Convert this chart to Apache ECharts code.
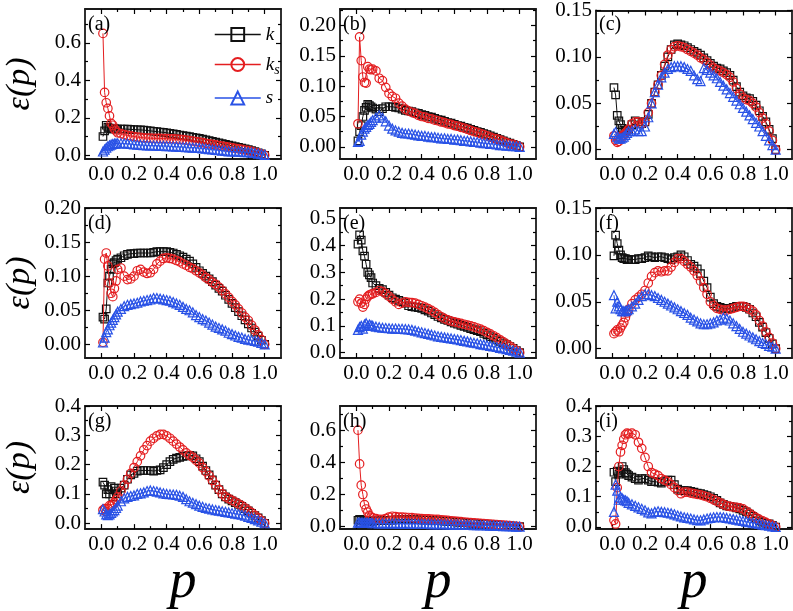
<!DOCTYPE html>
<html>
<head>
<meta charset="utf-8">
<script src="https://cdn.jsdelivr.net/npm/echarts@6/dist/echarts.min.js"></script>
<style>html,body{margin:0;padding:0;background:#fff}#c{width:793px;height:611px}</style>
</head>
<body>
<div id="c"></div>
<script>
// ---------- DATA ----------
const P = [0.01,0.02,0.03,0.04,0.05,0.06,0.07,0.08,0.09,0.10,
  0.12,0.14,0.16,0.18,0.20,0.22,0.24,0.26,0.28,0.30,0.32,0.34,0.36,0.38,0.40,
  0.42,0.44,0.46,0.48,0.50,0.52,0.54,0.56,0.58,0.60,0.62,0.64,0.66,0.68,0.70,
  0.72,0.74,0.76,0.78,0.80,0.82,0.84,0.86,0.88,0.90,0.92,0.94,0.96,0.98,1.00];

const panelLabels = ['(a)','(b)','(c)','(d)','(e)','(f)','(g)','(h)','(i)'];
const seriesNames = ['k','ks','s'];

const a_k  = [0.10,0.13,0.16,0.15,0.145,0.14,0.14,0.142,0.14,0.14, 0.14,0.14,0.139,0.138,0.137, 0.136,0.135,0.134,0.132,0.13, 0.128,0.126,0.124,0.122,0.12, 0.117,0.114,0.111,0.108,0.105, 0.102,0.099,0.096,0.093,0.09, 0.086,0.082,0.078,0.074,0.07, 0.066,0.062,0.058,0.054,0.05, 0.046,0.042,0.038,0.034,0.03, 0.025,0.019,0.013,0.007,0.0];
const a_ks = [0.65,0.335,0.28,0.25,0.21,0.17,0.16,0.14,0.13,0.12, 0.115,0.11,0.106,0.103,0.10, 0.097,0.095,0.093,0.092,0.091, 0.09,0.09,0.09,0.089,0.089, 0.088,0.087,0.086,0.085,0.083, 0.081,0.078,0.076,0.073,0.07, 0.067,0.064,0.061,0.058,0.055, 0.052,0.049,0.046,0.043,0.04, 0.037,0.034,0.031,0.028,0.025, 0.021,0.016,0.011,0.006,0.0];
const a_s  = [0.02,0.03,0.04,0.048,0.053,0.057,0.06,0.062,0.063,0.064, 0.064,0.063,0.062,0.06,0.058, 0.056,0.055,0.054,0.053,0.052, 0.052,0.051,0.05,0.05,0.049, 0.048,0.047,0.046,0.045,0.044, 0.043,0.042,0.041,0.04,0.039, 0.037,0.035,0.033,0.031,0.029, 0.027,0.025,0.023,0.021,0.02, 0.02,0.019,0.018,0.017,0.016, 0.014,0.012,0.009,0.006,0.002];

const b_k  = [0.01,0.025,0.035,0.05,0.06,0.065,0.07,0.068,0.066,0.064, 0.062,0.058,0.063,0.066,0.066, 0.066,0.065,0.064,0.062,0.06, 0.059,0.058,0.056,0.055,0.053, 0.052,0.05,0.049,0.047,0.045, 0.044,0.042,0.04,0.039,0.037, 0.035,0.034,0.032,0.031,0.029, 0.027,0.025,0.024,0.022,0.02, 0.018,0.016,0.014,0.012,0.01, 0.008,0.006,0.004,0.002,0.0];
const b_ks = [0.038,0.181,0.142,0.115,0.106,0.105,0.132,0.128,0.127,0.128, 0.125,0.113,0.109,0.098,0.088, 0.083,0.08,0.072,0.067,0.062, 0.059,0.057,0.055,0.052,0.05, 0.049,0.047,0.046,0.044,0.043, 0.041,0.04,0.038,0.037,0.035, 0.034,0.032,0.031,0.029,0.027, 0.025,0.024,0.022,0.02,0.018, 0.016,0.014,0.013,0.011,0.009, 0.007,0.005,0.004,0.002,0.0];
const b_s  = [0.008,0.01,0.02,0.025,0.03,0.033,0.036,0.038,0.041,0.044, 0.048,0.052,0.048,0.042,0.035, 0.03,0.027,0.025,0.023,0.022, 0.022,0.021,0.02,0.019,0.018, 0.018,0.017,0.016,0.016,0.015, 0.014,0.014,0.013,0.013,0.012, 0.012,0.011,0.01,0.01,0.009, 0.008,0.008,0.007,0.006,0.006, 0.005,0.005,0.004,0.003,0.003, 0.002,0.002,0.001,0.001,0.0];

const c_k  = [0.067,0.059,0.037,0.031,0.027,0.023,0.021,0.02,0.021,0.022, 0.027,0.031,0.03,0.028,0.03, 0.038,0.05,0.062,0.07,0.08, 0.09,0.1,0.108,0.113,0.114, 0.113,0.112,0.11,0.108,0.106, 0.104,0.102,0.099,0.096,0.093, 0.09,0.088,0.087,0.085,0.083, 0.08,0.075,0.068,0.062,0.058, 0.056,0.055,0.052,0.048,0.042, 0.036,0.03,0.022,0.012,0.0];
const c_ks = [0.015,0.01,0.008,0.009,0.012,0.015,0.016,0.018,0.02,0.022, 0.028,0.03,0.03,0.028,0.03, 0.04,0.05,0.062,0.07,0.08, 0.092,0.102,0.108,0.111,0.112, 0.111,0.11,0.108,0.106,0.104, 0.102,0.099,0.097,0.094,0.091, 0.088,0.086,0.085,0.083,0.081, 0.078,0.073,0.066,0.06,0.056, 0.054,0.053,0.05,0.046,0.04, 0.034,0.028,0.02,0.01,0.0];
const c_s  = [0.017,0.019,0.014,0.012,0.012,0.013,0.014,0.016,0.018,0.02, 0.02,0.022,0.02,0.02,0.025, 0.035,0.05,0.062,0.07,0.078, 0.083,0.087,0.089,0.09,0.09, 0.09,0.089,0.087,0.085,0.08, 0.076,0.074,0.088,0.086,0.083, 0.08,0.077,0.073,0.069,0.065, 0.061,0.057,0.053,0.049,0.045, 0.041,0.037,0.033,0.029,0.025, 0.02,0.015,0.01,0.005,0.0];

const d_k  = [0.04,0.037,0.052,0.09,0.1,0.11,0.118,0.12,0.123,0.125, 0.127,0.13,0.132,0.133,0.133, 0.134,0.134,0.134,0.134,0.134, 0.135,0.136,0.136,0.136,0.136, 0.135,0.134,0.132,0.13,0.128, 0.125,0.122,0.118,0.113,0.108, 0.104,0.1,0.096,0.092,0.087, 0.082,0.078,0.072,0.066,0.06, 0.054,0.048,0.042,0.036,0.03, 0.024,0.018,0.012,0.006,0.0];
const d_ks = [0.003,0.125,0.134,0.115,0.09,0.075,0.07,0.082,0.093,0.11, 0.112,0.1,0.095,0.096,0.1, 0.108,0.11,0.106,0.104,0.105, 0.11,0.118,0.122,0.126,0.127, 0.126,0.125,0.123,0.121,0.118, 0.116,0.113,0.111,0.108,0.105, 0.102,0.098,0.095,0.091,0.088, 0.084,0.079,0.074,0.069,0.063, 0.058,0.052,0.046,0.04,0.035, 0.028,0.021,0.014,0.007,0.0];
const d_s  = [0.003,0.01,0.018,0.022,0.028,0.032,0.036,0.04,0.044,0.048, 0.052,0.056,0.058,0.059,0.06, 0.061,0.063,0.064,0.065,0.066, 0.068,0.068,0.067,0.066,0.065, 0.064,0.062,0.06,0.058,0.055, 0.052,0.05,0.047,0.043,0.04, 0.037,0.035,0.032,0.029,0.026, 0.024,0.022,0.02,0.017,0.015, 0.013,0.011,0.01,0.008,0.007, 0.006,0.005,0.004,0.002,0.0];

const e_k  = [0.405,0.44,0.42,0.38,0.36,0.33,0.30,0.29,0.28,0.26, 0.25,0.24,0.235,0.225,0.215, 0.205,0.2,0.195,0.19,0.185, 0.175,0.172,0.17,0.168,0.165, 0.16,0.155,0.148,0.142,0.135, 0.13,0.124,0.12,0.115,0.11, 0.106,0.102,0.098,0.094,0.09, 0.086,0.082,0.078,0.072,0.066, 0.06,0.054,0.048,0.042,0.036, 0.03,0.023,0.016,0.008,0.0];
const e_ks = [0.19,0.2,0.185,0.17,0.18,0.2,0.21,0.215,0.218,0.22, 0.225,0.232,0.228,0.22,0.21, 0.2,0.19,0.18,0.185,0.19, 0.188,0.187,0.185,0.18,0.175, 0.17,0.164,0.158,0.15,0.142, 0.134,0.127,0.122,0.118,0.115, 0.112,0.109,0.106,0.103,0.1, 0.096,0.092,0.088,0.082,0.076, 0.07,0.063,0.056,0.048,0.04, 0.032,0.024,0.016,0.008,0.0];
const e_s  = [0.085,0.095,0.1,0.09,0.105,0.11,0.1,0.105,0.102,0.1, 0.097,0.095,0.093,0.092,0.091, 0.09,0.09,0.089,0.089,0.088, 0.087,0.085,0.082,0.079,0.076, 0.073,0.07,0.067,0.064,0.061, 0.059,0.057,0.055,0.053,0.051, 0.049,0.047,0.044,0.042,0.039, 0.037,0.035,0.032,0.03,0.028, 0.025,0.023,0.021,0.018,0.016, 0.013,0.01,0.007,0.004,0.0];

const f_k  = [0.099,0.121,0.112,0.105,0.1,0.097,0.096,0.096,0.095,0.095, 0.095,0.095,0.096,0.096,0.097, 0.099,0.098,0.097,0.098,0.098, 0.097,0.096,0.095,0.097,0.098, 0.1,0.098,0.094,0.09,0.088, 0.085,0.08,0.072,0.065,0.055, 0.048,0.045,0.044,0.043,0.043, 0.043,0.044,0.045,0.045,0.045, 0.044,0.042,0.038,0.034,0.028, 0.023,0.017,0.011,0.005,0.0];
const f_ks = [0.016,0.018,0.02,0.018,0.022,0.025,0.028,0.033,0.038,0.042, 0.048,0.052,0.055,0.058,0.062, 0.07,0.077,0.081,0.083,0.082, 0.083,0.083,0.087,0.092,0.096, 0.096,0.093,0.09,0.087,0.083, 0.078,0.072,0.065,0.058,0.05, 0.046,0.043,0.042,0.041,0.041, 0.042,0.043,0.044,0.045,0.045, 0.044,0.042,0.04,0.036,0.03, 0.024,0.018,0.012,0.006,0.0];
const f_s  = [0.057,0.043,0.05,0.045,0.042,0.04,0.04,0.04,0.041,0.042, 0.045,0.048,0.052,0.056,0.058, 0.058,0.057,0.056,0.054,0.052, 0.05,0.048,0.046,0.044,0.042, 0.04,0.038,0.036,0.033,0.031, 0.029,0.027,0.026,0.026,0.027, 0.028,0.03,0.031,0.033,0.032, 0.03,0.027,0.024,0.021,0.018, 0.016,0.014,0.012,0.01,0.008, 0.006,0.005,0.003,0.002,0.0];

const g_k  = [0.14,0.13,0.1,0.115,0.1,0.125,0.09,0.12,0.11,0.1, 0.12,0.13,0.15,0.165,0.17, 0.178,0.18,0.18,0.18,0.18, 0.178,0.18,0.182,0.19,0.2, 0.21,0.218,0.222,0.225,0.228, 0.23,0.232,0.23,0.22,0.21, 0.195,0.18,0.165,0.148,0.13, 0.115,0.1,0.09,0.082,0.076, 0.07,0.064,0.058,0.05,0.042, 0.034,0.026,0.018,0.009,0.0];
const g_ks = [0.045,0.05,0.04,0.05,0.06,0.06,0.065,0.07,0.08,0.09, 0.11,0.13,0.15,0.17,0.19, 0.21,0.23,0.25,0.265,0.28, 0.29,0.298,0.303,0.303,0.298, 0.29,0.28,0.27,0.26,0.25, 0.24,0.232,0.225,0.215,0.205, 0.19,0.176,0.162,0.146,0.13, 0.115,0.1,0.09,0.084,0.078, 0.072,0.066,0.06,0.052,0.044, 0.036,0.027,0.018,0.009,0.0];
const g_s  = [0.048,0.04,0.03,0.028,0.03,0.035,0.04,0.045,0.052,0.06, 0.075,0.085,0.09,0.093,0.095, 0.1,0.102,0.105,0.11,0.112, 0.11,0.108,0.105,0.102,0.1, 0.099,0.098,0.097,0.094,0.09, 0.082,0.075,0.07,0.065,0.06, 0.056,0.052,0.05,0.047,0.045, 0.043,0.041,0.039,0.037,0.035, 0.033,0.031,0.029,0.026,0.022, 0.018,0.014,0.01,0.005,0.0];

const h_k  = [0.04,0.045,0.04,0.038,0.035,0.035,0.035,0.035,0.035,0.035, 0.036,0.037,0.038,0.039,0.04, 0.041,0.042,0.043,0.044,0.045, 0.045,0.044,0.044,0.043,0.042, 0.041,0.04,0.039,0.038,0.037, 0.036,0.034,0.033,0.031,0.03, 0.028,0.027,0.025,0.024,0.022, 0.021,0.019,0.018,0.016,0.015, 0.013,0.012,0.011,0.009,0.008, 0.006,0.005,0.003,0.002,0.0];
const h_ks = [0.6,0.39,0.258,0.2,0.137,0.11,0.09,0.07,0.06,0.055, 0.05,0.045,0.045,0.05,0.06, 0.065,0.062,0.06,0.059,0.058, 0.057,0.056,0.054,0.052,0.05, 0.049,0.048,0.047,0.046,0.045, 0.043,0.041,0.039,0.037,0.035, 0.033,0.031,0.029,0.027,0.025, 0.024,0.022,0.021,0.019,0.018, 0.016,0.015,0.013,0.012,0.01, 0.008,0.006,0.004,0.002,0.0];
const h_s  = [0.025,0.025,0.025,0.025,0.025,0.024,0.024,0.023,0.023,0.022, 0.022,0.021,0.021,0.02,0.02, 0.02,0.02,0.019,0.019,0.019, 0.019,0.018,0.018,0.018,0.018, 0.017,0.017,0.016,0.016,0.016, 0.015,0.015,0.014,0.014,0.013, 0.013,0.012,0.012,0.011,0.011, 0.01,0.01,0.009,0.009,0.008, 0.007,0.007,0.006,0.005,0.004, 0.004,0.003,0.002,0.001,0.0];

const i_k  = [0.181,0.15,0.185,0.175,0.18,0.2,0.19,0.18,0.175,0.17, 0.165,0.16,0.155,0.16,0.16, 0.155,0.15,0.15,0.148,0.145, 0.15,0.155,0.155,0.14,0.125, 0.12,0.12,0.12,0.118,0.115, 0.112,0.11,0.107,0.104,0.1, 0.095,0.088,0.08,0.075,0.07, 0.068,0.066,0.063,0.06,0.055, 0.05,0.043,0.035,0.028,0.02, 0.016,0.012,0.01,0.005,0.0];
const i_ks = [0.022,0.01,0.13,0.2,0.248,0.27,0.29,0.305,0.31,0.308, 0.31,0.305,0.28,0.26,0.23, 0.2,0.18,0.175,0.17,0.16, 0.155,0.15,0.14,0.13,0.12, 0.11,0.115,0.115,0.112,0.11, 0.108,0.106,0.103,0.1,0.095, 0.09,0.085,0.08,0.075,0.07, 0.068,0.066,0.065,0.063,0.06, 0.052,0.045,0.038,0.031,0.025, 0.02,0.015,0.01,0.005,0.0];
const i_s  = [0.05,0.14,0.12,0.09,0.1,0.095,0.09,0.088,0.085,0.08, 0.075,0.07,0.065,0.06,0.055, 0.048,0.045,0.05,0.052,0.05, 0.049,0.047,0.045,0.042,0.038, 0.035,0.032,0.03,0.028,0.025, 0.023,0.022,0.025,0.028,0.03, 0.032,0.033,0.033,0.032,0.03, 0.028,0.026,0.024,0.022,0.02, 0.018,0.016,0.014,0.012,0.01, 0.008,0.006,0.004,0.002,0.0];

const panelData = [
  [a_k,a_ks,a_s],[b_k,b_ks,b_s],[c_k,c_ks,c_s],
  [d_k,d_ks,d_s],[e_k,e_ks,e_s],[f_k,f_ks,f_s],
  [g_k,g_ks,g_s],[h_k,h_ks,h_s],[i_k,i_ks,i_s]
];

const xRange = [-0.1, 1.1];
const xMajor = [0.0,0.2,0.4,0.6,0.8,1.0];
const xMinor = [0.1,0.3,0.5,0.7,0.9];

const yRanges = [[-0.02,0.78],[-0.02,0.227],[-0.01,0.15],[-0.02,0.2],[-0.02,0.54],[-0.01,0.15],[-0.02,0.4],[-0.015,0.75],[-0.007,0.4]];
const yMajor = [
  [0,0.2,0.4,0.6],[0,0.05,0.1,0.15,0.2],[0,0.05,0.1,0.15],
  [0,0.05,0.1,0.15,0.2],[0,0.1,0.2,0.3,0.4,0.5],[0,0.05,0.1,0.15],
  [0,0.1,0.2,0.3,0.4],[0,0.2,0.4,0.6],[0,0.1,0.2,0.3,0.4]
];
const yMinor = [
  [0.1,0.3,0.5,0.7],[0.025,0.075,0.125,0.175,0.225],[0.025,0.075,0.125],
  [0.025,0.075,0.125,0.175],[0.05,0.15,0.25,0.35,0.45],[0.025,0.075,0.125],
  [0.05,0.15,0.25,0.35],[0.1,0.3,0.5,0.7],[0.05,0.15,0.25,0.35]
];
const yDecimals = [1,2,2,2,1,2,1,1,1];

// ---------- CHART ----------
const SERIF = '"Liberation Serif", serif';
const colors = ['#111111','#e41e20','#2952e6'];
const symbols = ['rect','circle','triangle'];
const symSizes = [7.5,8.5,9];

const gridLeft = [85,340,596], gridTop = [9,208,406], GW = 196, GH = 150;
const grids=[], xAxes=[], yAxes=[], series=[], titles=[];

function tickAxis(g, pos, vals, len, range, extra){
  const o = {type:'value', gridIndex:g, position:pos, min:range[0], max:range[1],
    splitLine:{show:false}, axisLabel:{show:false},
    axisLine:{show:false, onZero:false},
    axisTick:{show:true, inside:true, length:len, customValues:vals, lineStyle:{color:'#000', width:1.2}}};
  return Object.assign(o, extra||{});
}

for (let g=0; g<9; g++){
  const r = Math.floor(g/3), c = g%3;
  grids.push({left:gridLeft[c], top:gridTop[r], width:GW, height:GH, show:false});
  const frame = {show:true, onZero:false, lineStyle:{color:'#1a1a1a', width:1.8}};
  const dec = yDecimals[g];
  xAxes.push(tickAxis(g, 'bottom', xMajor, 5, xRange, {
    axisLine:frame,
    axisLabel:{show:true, customValues:xMajor, margin:5, formatter:v=>v.toFixed(1),
      fontFamily:SERIF, fontSize:21, color:'#000'},
    name: r===2 ? 'p' : '', nameLocation:'middle', nameGap:14,
    nameTextStyle:{fontFamily:SERIF, fontStyle:'italic', fontSize:54, color:'#000'}
  }));
  xAxes.push(tickAxis(g, 'bottom', xMinor, 3, xRange));
  xAxes.push(tickAxis(g, 'top', xMajor, 5, xRange, {axisLine:frame}));
  xAxes.push(tickAxis(g, 'top', xMinor, 3, xRange));

  yAxes.push(tickAxis(g, 'left', yMajor[g], 5, yRanges[g], {
    axisLine:frame,
    axisLabel:{show:true, customValues:yMajor[g], margin:4, formatter:v=>v.toFixed(dec),
      fontFamily:SERIF, fontSize:21, color:'#000'},
    name: c===0 ? 'ε(p)' : '', nameLocation:'middle', nameGap:48, nameRotate:90,
    nameTextStyle:{fontFamily:SERIF, fontStyle:'italic', fontSize:34, color:'#000'}
  }));
  yAxes.push(tickAxis(g, 'left', yMinor[g], 3, yRanges[g]));
  yAxes.push(tickAxis(g, 'right', yMajor[g], 5, yRanges[g], {axisLine:frame}));
  yAxes.push(tickAxis(g, 'right', yMinor[g], 3, yRanges[g]));

  titles.push({text:panelLabels[g], left:gridLeft[c]+3, top:gridTop[r]+6, padding:0,
    textStyle:{fontFamily:SERIF, fontWeight:'normal', fontSize:20, color:'#000'}});

  for (let s=0; s<3; s++){
    const vals = panelData[g][s];
    series.push({
      type:'line', name:seriesNames[s], xAxisIndex:4*g, yAxisIndex:4*g,
      data: P.map((p,i)=>[p, vals[i]]),
      symbol:symbols[s], symbolSize:symSizes[s], showAllSymbol:true,
      itemStyle:{color:'rgba(255,255,255,0)', borderColor:colors[s], borderWidth:1.2},
      lineStyle:{color:colors[s], width:1},
      z: 2+s, animation:false, silent:true
    });
  }
}

const chart = echarts.init(document.getElementById('c'));
chart.setOption({
  backgroundColor:'#fff',
  animation:false,
  title: titles,
  grid: grids,
  xAxis: xAxes,
  yAxis: yAxes,
  legend: {
    data: seriesNames, orient:'vertical', left:209, top:20,
    itemWidth:46, itemHeight:16, itemGap:11,
    itemStyle:{borderWidth:2}, lineStyle:{width:1.5},
    formatter: n => n==='ks' ? '{i|k}{sub|s}' : '{i|'+n+'}',
    textStyle:{color:'#000', rich:{
      i:{fontFamily:SERIF, fontStyle:'italic', fontSize:19, color:'#000'},
      sub:{fontFamily:SERIF, fontStyle:'italic', fontSize:14, color:'#000', padding:[12,0,0,0]}
    }}
  },
  series: series
});
</script>
</body>
</html>
